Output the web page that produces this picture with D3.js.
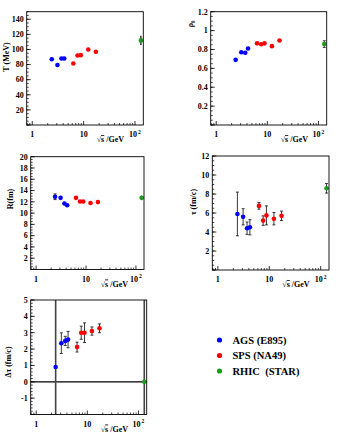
<!DOCTYPE html>
<html><head><meta charset="utf-8">
<script src="https://cdn.jsdelivr.net/npm/d3@7"></script>
<style>
body{margin:0;background:#fff;}
svg text{font-family:"Liberation Serif","DejaVu Serif",serif;font-weight:bold;fill:#000;}
</style></head><body>
<svg id="c" width="361" height="436"></svg>
<script>
// ---- data ----
const xAGS = [2.4, 3.1, 3.7, 4.2];
const xSPS = [6.3, 7.6, 8.8, 12.3, 17.3];
const xRHIC = [130];
const xTickLabels = ["1", "10", "10"];

const tAGS = [87, 79.5, 88, 88];       const tAGSErr = [1, 1, 1, 1];
const tSPS = [81.5, 92, 92.5, 100, 97]; const tSPSErr = [1, 2, 1, 2, 2];
const tRHIC = [112];                    const tRHICErr = [6];

const rhoAGS = [0.69, 0.77, 0.765, 0.81];        const rhoAGSErr = [0.01, 0.01, 0.01, 0.01];
const rhoSPS = [0.865, 0.855, 0.865, 0.835, 0.895]; const rhoSPSErr = [0.01, 0.01, 0.01, 0.01, 0.01];
const rhoRHIC = [0.857];                           const rhoRHICErr = [0.035];

const RAGS = [12.9, 12.7, 11.7, 11.4];     const RAGSErr = [0.5, 0.2, 0.2, 0.2];
const RSPS = [12.7, 12.05, 12.05, 11.8, 11.95]; const RSPSErr = [0.2, 0.2, 0.2, 0.2, 0.2];
const RRHIC = [12.7];                      const RRHICErr = [0.4];

const tauAGS = [5.9, 5.6, 4.4, 4.5];        const tauAGSErr = [2.3, 0.85, 0.65, 0.8];
const tauSPS = [6.75, 5.2, 5.75, 5.4, 5.7]; const tauSPSErr = [0.35, 0.5, 1.0, 0.65, 0.5];
const tauRHIC = [8.6];                      const tauRHICErr = [0.5];

const dtAGS = [0.9, 2.36, 2.5, 2.58];       const dtAGSErr = [20, 0.63, 0.28, 0.5];
const dtSPS = [2.12, 3.0, 3.0, 3.1, 3.27];  const dtSPSErr = [0.3, 0.4, 0.6, 0.25, 0.27];
const dtRHIC = [0.0];                       const dtRHICErr = [20];

const legendLabels = ["AGS (E895)", "SPS (NA49)", "RHIC  (STAR)"];
const colors = ["#0000ff", "#ff0000", "#1e9a1e"];

// ---- layout ----
const panels = [
  {box:[26.7,11.7,143.3,125], dom:[0,150], major:20, minor:5, fmt:d=>d, title:"T (MeV)", tpos:[6,57], lo:20,
   ys:[tAGS,tSPS,tRHIC], es:[tAGSErr,tSPSErr,tRHICErr]},
  {box:[210.7,11.7,326.7,125], dom:[0,1.2], major:0.2, minor:0.05, fmt:d=>(+d.toFixed(1)).toString(), title:"ρ₀", tpos:[190,24], lo:0.2,
   ys:[rhoAGS,rhoSPS,rhoRHIC], es:[rhoAGSErr,rhoSPSErr,rhoRHICErr]},
  {box:[30.7,156.7,144,269.5], dom:[0,20], major:2, minor:0.5, fmt:d=>d, title:"R(fm)", tpos:[10,199], lo:2,
   ys:[RAGS,RSPS,RRHIC], es:[RAGSErr,RSPSErr,RRHICErr]},
  {box:[212.3,156,329,270], dom:[0,12], major:2, minor:0.5, fmt:d=>d, title:"τ (fm/c)", tpos:[193,202], lo:2,
   ys:[tauAGS,tauSPS,tauRHIC], es:[tauAGSErr,tauSPSErr,tauRHICErr]},
  {box:[30.7,300,146.7,414.5], dom:[-2,5], major:1, minor:0.2, fmt:d=>d, title:"Δτ (fm/c)", tpos:[8,362], lo:-1, zero:true,
   ys:[dtAGS,dtSPS,dtRHIC], es:[dtAGSErr,dtSPSErr,dtRHICErr]}
];
const xsets = [xAGS, xSPS, xRHIC];

const svg = d3.select("#c");
const defs = svg.append("defs");

panels.forEach((p, pi) => {
  const [x0,y0,x1,y1] = p.box;
  const x = d3.scaleLog().domain([0.78,145]).range([x0,x1]);
  const y = d3.scaleLinear().domain(p.dom).range([y1,y0]);
  const g = svg.append("g");
  defs.append("clipPath").attr("id","clip"+pi).append("rect")
    .attr("x",x0).attr("y",y0).attr("width",x1-x0).attr("height",y1-y0);

  // y ticks (inside)
  const nMaj = Math.floor((p.dom[1]-p.dom[0])/p.major+1e-6);
  const majors = d3.range(0,nMaj+1).map(i=>+(p.dom[0]+i*p.major).toFixed(4));
  const nMin = Math.floor((p.dom[1]-p.dom[0])/p.minor+1e-6);
  const minors = d3.range(0,nMin+1).map(i=>+(p.dom[0]+i*p.minor).toFixed(4));
  g.selectAll(".ymin").data(minors).join("line")
    .attr("x1",x0).attr("x2",x0+2).attr("y1",d=>y(d)).attr("y2",d=>y(d))
    .attr("stroke","#000").attr("stroke-width",0.7);
  g.selectAll(".ymaj").data(majors).join("line")
    .attr("x1",x0).attr("x2",x0+4).attr("y1",d=>y(d)).attr("y2",d=>y(d))
    .attr("stroke","#000").attr("stroke-width",0.8);
  g.selectAll(".ylab").data(majors.filter(d=>d>=p.lo-1e-9)).join("text")
    .attr("x",x0-3).attr("y",d=>y(d)+2.8).attr("text-anchor","end")
    .attr("font-size",8).text(p.fmt);

  // x ticks (inside)
  const xmin = [0.8,0.9,2,3,4,5,6,7,8,9,20,30,40,50,60,70,80,90];
  const xmaj = [1,10,100];
  g.selectAll(".xmin").data(xmin).join("line")
    .attr("x1",d=>x(d)).attr("x2",d=>x(d)).attr("y1",y1).attr("y2",y1-2)
    .attr("stroke","#000").attr("stroke-width",0.7);
  g.selectAll(".xmaj").data(xmaj).join("line")
    .attr("x1",d=>x(d)).attr("x2",d=>x(d)).attr("y1",y1).attr("y2",y1-4)
    .attr("stroke","#000").attr("stroke-width",0.8);
  g.selectAll(".xlab").data(xmaj).join("text")
    .attr("x",(d,i)=>x(d)+(i==2?-2:0)).attr("y",y1+12).attr("text-anchor","middle")
    .attr("font-size",8).text((d,i)=>xTickLabels[i]);
  g.append("text").attr("x",x(100)+3).attr("y",y1+8.5).attr("font-size",5.5).text("2");

  // x title
  const xt = g.append("text").attr("x",x0+70).attr("y",y1+17).attr("font-size",8);
  xt.append("tspan").text("√");
  xt.append("tspan").style("text-decoration","overline").text("s");
  xt.append("tspan").text(" /GeV");

  // y title
  g.append("text").attr("transform",`translate(${p.tpos[0]},${p.tpos[1]}) rotate(-90)`)
    .attr("text-anchor","middle").attr("dy","0.35em").attr("font-size",8).text(p.title);

  // zero line
  if (p.zero) {
    g.append("line").attr("x1",x0).attr("x2",x1).attr("y1",y(0)).attr("y2",y(0))
      .attr("stroke","#000").attr("stroke-width",1.2);
  }

  // data
  const dg = g.append("g").attr("clip-path",`url(#clip${pi})`);
  xsets.forEach((xs, si) => {
    const pts = xs.map((xv,i)=>({x:xv, y:p.ys[si][i], e:p.es[si][i]}));
    const big = d=>d.e>5;
    dg.selectAll(".eb"+si).data(pts).join("line")
      .attr("x1",d=>x(d.x)).attr("x2",d=>x(d.x))
      .attr("y1",d=>y(d.y-d.e)).attr("y2",d=>y(d.y+d.e))
      .attr("stroke",d=>big(d)?"#444":"#222").attr("stroke-width",d=>big(d)?1.6:0.9);
    const capped = pts.filter(d=>!big(d) && Math.abs(y(d.y+d.e)-y(d.y))>2.5);
    dg.selectAll(".ct"+si).data(capped).join("line")
      .attr("x1",d=>x(d.x)-1.5).attr("x2",d=>x(d.x)+1.5)
      .attr("y1",d=>y(d.y+d.e)).attr("y2",d=>y(d.y+d.e)).attr("stroke","#222").attr("stroke-width",0.9);
    dg.selectAll(".cb"+si).data(capped).join("line")
      .attr("x1",d=>x(d.x)-1.5).attr("x2",d=>x(d.x)+1.5)
      .attr("y1",d=>y(d.y-d.e)).attr("y2",d=>y(d.y-d.e)).attr("stroke","#222").attr("stroke-width",0.9);
    dg.selectAll(".pt"+si).data(pts).join("circle")
      .attr("cx",d=>x(d.x)).attr("cy",d=>y(d.y)).attr("r",2.3).attr("fill",colors[si]);
  });

  // frame
  g.append("rect").attr("x",x0).attr("y",y0).attr("width",x1-x0).attr("height",y1-y0)
    .attr("fill","none").attr("stroke","#000").attr("stroke-width",0.9);
});

// legend
const lg = svg.append("g");
legendLabels.forEach((t,i)=>{
  const yy = 340 + i*15.5;
  lg.append("circle").attr("cx",219.5).attr("cy",yy).attr("r",2.6).attr("fill",colors[i]);
  lg.append("text").attr("x",232.5).attr("y",yy+3.5).attr("font-size",10.5).style("white-space","pre").text(t);
});
</script>
</body></html>
